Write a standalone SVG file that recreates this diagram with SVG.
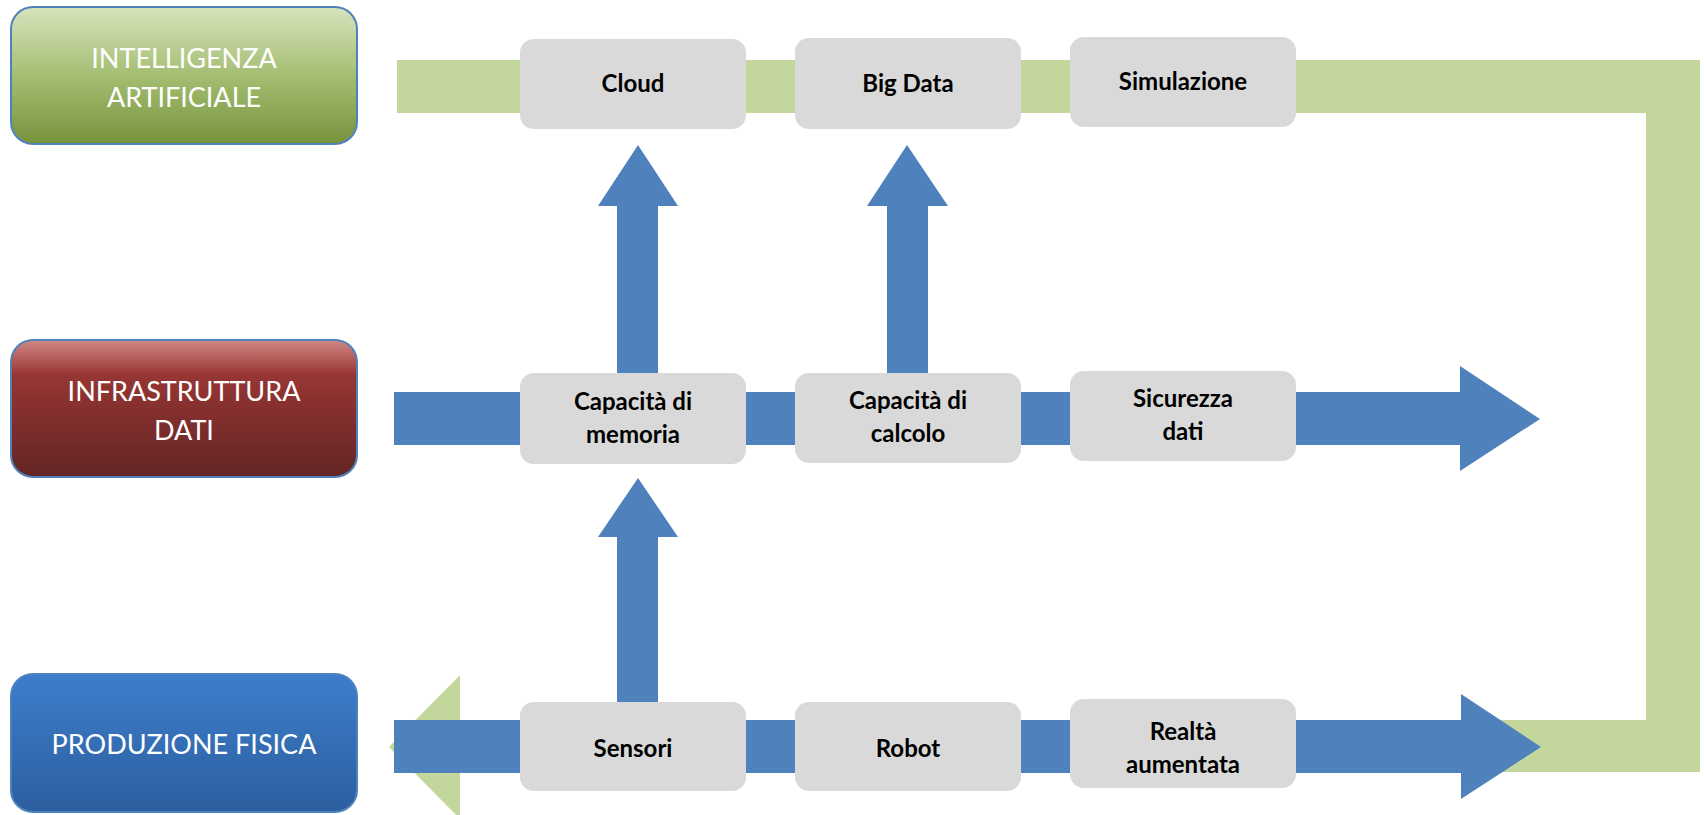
<svg xmlns="http://www.w3.org/2000/svg" width="1704" height="815" viewBox="0 0 1704 815">
<defs>
<linearGradient id="gGreen" x1="0" y1="0" x2="0" y2="1">
<stop offset="0" stop-color="#D7E4BD"/>
<stop offset="0.5" stop-color="#A4BE72"/>
<stop offset="1" stop-color="#77933C"/>
</linearGradient>
<linearGradient id="gRed" x1="0" y1="0" x2="0" y2="1">
<stop offset="0" stop-color="#D48885"/>
<stop offset="0.25" stop-color="#973634"/>
<stop offset="1" stop-color="#622524"/>
</linearGradient>
<linearGradient id="gBlue" x1="0" y1="0" x2="0" y2="1">
<stop offset="0" stop-color="#3C7ECC"/>
<stop offset="1" stop-color="#2D5E9E"/>
</linearGradient>
<style>
.lane{stroke:#4F81BD;stroke-width:2}
.lt{font-family:Lato,"Open Sans","Liberation Sans",sans-serif;font-size:27px;fill:#FFFFFF;text-anchor:middle}
.gb{fill:#D9D9D9}
.bt{font-family:Lato,"Open Sans","Liberation Sans",sans-serif;font-size:24px;font-weight:bold;fill:#000000;text-anchor:middle}
.green{fill:#C3D69B}
.blue{fill:#4F81BD}
</style>
</defs>
<rect width="1704" height="815" fill="#FFFFFF"/>

<g id="connectors">
<path class="green" d="M397,60 L1700,60 L1700,772 L460,772 L460,819 L389,747 L460,675 L460,720 L1646,720 L1646,113 L397,113 Z"/>
<path class="blue" d="M394,392 L1460,392 L1460,366 L1540,419 L1460,471 L1460,445 L394,445 Z"/>
<path class="blue" d="M394,720 L1461,720 L1461,694 L1541,747 L1461,799 L1461,773 L394,773 Z"/>
<path class="blue" d="M617,380 L617,206 L598,206 L638,145 L678,206 L658,206 L658,380 Z"/>
<path class="blue" d="M887,380 L887,206 L867,206 L907,145 L948,206 L928,206 L928,380 Z"/>
<path class="blue" d="M617,705 L617,537 L598,537 L638,478 L678,537 L658,537 L658,705 Z"/>
</g>

<g id="lane-ai">
<rect class="lane" x="11" y="7" width="346" height="137" rx="22" fill="url(#gGreen)"/>
<text class="lt" x="184" y="68">INTELLIGENZA</text>
<text class="lt" x="184" y="107">ARTIFICIALE</text>
</g>
<g id="lane-infra">
<rect class="lane" x="11" y="340" width="346" height="137" rx="22" fill="url(#gRed)"/>
<text class="lt" x="184" y="401">INFRASTRUTTURA</text>
<text class="lt" x="184" y="440">DATI</text>
</g>
<g id="lane-prod">
<rect class="lane" x="11" y="674" width="346" height="138" rx="22" fill="url(#gBlue)"/>
<text class="lt" x="184" y="754">PRODUZIONE FISICA</text>
</g>

<g id="cloud">
<rect class="gb" x="520" y="39" width="226" height="90" rx="14"/>
<text class="bt" x="633" y="92">Cloud</text>
</g>
<g id="bigdata">
<rect class="gb" x="795" y="38" width="226" height="91" rx="14"/>
<text class="bt" x="908" y="92">Big Data</text>
</g>
<g id="simulazione">
<rect class="gb" x="1070" y="37" width="226" height="90" rx="14"/>
<text class="bt" x="1183" y="90">Simulazione</text>
</g>

<g id="memoria">
<rect class="gb" x="520" y="373" width="226" height="91" rx="14"/>
<text class="bt" x="633" y="410">Capacità di</text>
<text class="bt" x="633" y="443">memoria</text>
</g>
<g id="calcolo">
<rect class="gb" x="795" y="373" width="226" height="90" rx="14"/>
<text class="bt" x="908" y="409">Capacità di</text>
<text class="bt" x="908" y="442">calcolo</text>
</g>
<g id="sicurezza">
<rect class="gb" x="1070" y="371" width="226" height="90" rx="14"/>
<text class="bt" x="1183" y="407">Sicurezza</text>
<text class="bt" x="1183" y="440">dati</text>
</g>

<g id="sensori">
<rect class="gb" x="520" y="702" width="226" height="89" rx="14"/>
<text class="bt" x="633" y="757">Sensori</text>
</g>
<g id="robot">
<rect class="gb" x="795" y="702" width="226" height="89" rx="14"/>
<text class="bt" x="908" y="757">Robot</text>
</g>
<g id="realta">
<rect class="gb" x="1070" y="699" width="226" height="89" rx="14"/>
<text class="bt" x="1183" y="740">Realtà</text>
<text class="bt" x="1183" y="773">aumentata</text>
</g>
</svg>
